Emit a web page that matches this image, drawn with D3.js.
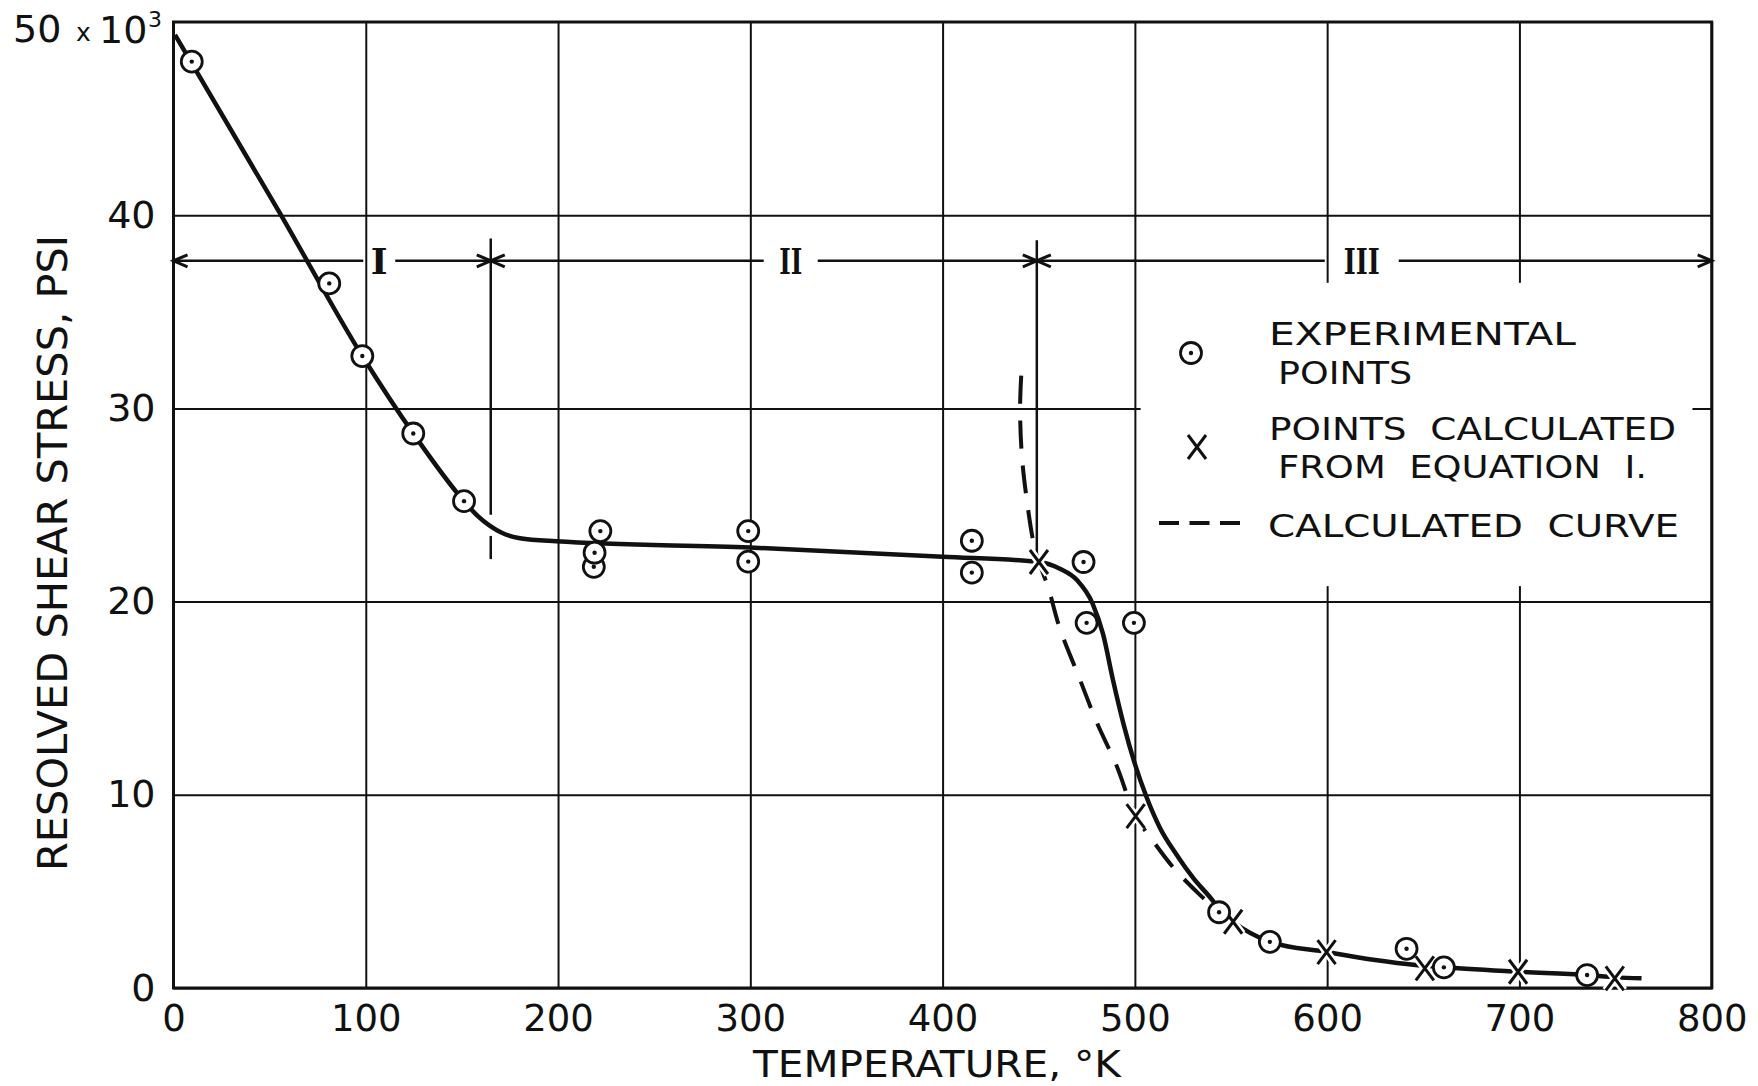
<!DOCTYPE html>
<html>
<head>
<meta charset="utf-8">
<script src="https://cdn.jsdelivr.net/npm/d3@7"></script>
<style>
  body { margin: 0; background: #fff; }
  svg text { fill: #111; }
</style>
</head>
<body>
<script>
var W = 1758, H = 1086;

// axis ticks
var xTicks = [0, 100, 200, 300, 400, 500, 600, 700, 800];
var yTicks = [0, 10, 20, 30, 40];

// experimental points (temperature K, stress in 1000 psi)
var expT = [9.5, 81, 98.2, 124.7, 151.1, 218.6, 219, 222, 298.9, 298.9, 415.2, 415.2,
            473.3, 474.9, 499.5, 543.8, 570.2, 641.3, 660.7, 735.2];
var expS = [47.95, 36.47, 32.71, 28.7, 25.2, 21.8, 22.53, 23.65, 23.65, 22.07, 23.15, 21.5,
            22.05, 18.9, 18.9, 3.92, 2.39, 2.03, 1.07, 0.67];

// points calculated from equation I
var calcT = [450.1, 500.4, 551.1, 599.7, 650.8, 699.3, 749.6];
var calcS = [22.05, 8.9, 3.43, 1.86, 1.02, 0.84, 0.5];

// solid (drawn) curve
var fitT = [0.8, 55.4, 98.2, 124.7, 151.1, 158, 164.6, 171, 180.2, 199, 300, 400, 450.1, 461, 470,
            478, 483.5, 488.7, 494, 500, 506, 513, 521.7, 530.3, 540.7, 545, 551, 570, 600,
            625, 646, 661, 699, 735, 750, 763.5];
var fitS = [49.33, 40.1, 32.71, 28.7, 25.2, 24.45, 23.92, 23.55, 23.28, 23.12, 22.8, 22.32, 22.05,
            21.7, 21.1, 19.9, 18.3, 15.9, 13.7, 11.6, 9.9, 8.3, 6.9, 5.7, 4.5, 3.92, 3.43, 2.4,
            1.86, 1.45, 1.19, 1.07, 0.84, 0.67, 0.55, 0.5];

// calculated (dashed) curve
var dashT = [440.9, 440.3, 441.2, 443.6, 447.4, 450.1, 455, 461, 470.5, 480.4, 490.5, 500.4,
             509.5, 520.3, 533, 543.8];
var dashS = [31.7, 30.0, 27.6, 25.4, 23.0, 22.05, 20.7, 18.6, 16.2, 13.7, 11.5, 8.9, 7.6,
             6.2, 4.9, 3.92];

// temperature regions
var regionNames = ["I", "II", "III"];
var regionBounds = [0, 165, 449, 800];
var regionLabelT = [107, 321, 618];
var regionArrowS = 37.64;

var legendLabels = [["EXPERIMENTAL", "POINTS"], ["POINTS  CALCULATED", "FROM  EQUATION  I."], ["CALCULATED  CURVE"]];

var ink = "#111";
var sans = "'DejaVu Sans', sans-serif";

var svg = d3.select("body").append("svg")
  .attr("width", W).attr("height", H);

var x = d3.scaleLinear().domain([0, 800]).range([173.5, 1711.7]);
var y = d3.scaleLinear().domain([0, 50]).range([988, 22]);

// grid via axes
var gx = svg.append("g")
  .attr("transform", "translate(0," + y(0) + ")")
  .call(d3.axisBottom(x).tickValues(xTicks).tickSize(-(y(0) - y(50))).tickPadding(17)
        .tickFormat(d3.format("d")));
gx.attr("font-family", sans).attr("font-size", 37).attr("color", ink);
gx.select(".domain").remove();
gx.selectAll(".tick line").attr("stroke-width", 2);

var gy = svg.append("g")
  .attr("transform", "translate(" + x(0) + ",0)")
  .call(d3.axisLeft(y).tickValues(yTicks).tickSize(-(x(800) - x(0))).tickPadding(18));
gy.attr("font-family", sans).attr("font-size", 38).attr("color", ink);
gy.select(".domain").remove();
gy.selectAll(".tick line").attr("stroke-width", 2);

// top label 50 x 10^3
svg.append("text").attr("x", 13).attr("y", 42).attr("font-family", sans).attr("font-size", 38).text("50");
svg.append("text").attr("x", 76).attr("y", 41).attr("font-family", sans).attr("font-size", 25).text("x");
svg.append("text").attr("x", 99).attr("y", 43).attr("font-family", sans).attr("font-size", 38).text("10");
svg.append("text").attr("x", 148).attr("y", 27).attr("font-family", sans).attr("font-size", 22).text("3");

// legend area clears the grid
svg.append("rect")
  .attr("x", x(503)).attr("y", y(36.5))
  .attr("width", x(790) - x(503)).attr("height", y(20.8) - y(36.5))
  .attr("fill", "#fff");

// frame
svg.append("rect")
  .attr("x", x(0)).attr("y", y(50))
  .attr("width", x(800) - x(0)).attr("height", y(0) - y(50))
  .attr("fill", "none").attr("stroke", ink).attr("stroke-width", 3);

// axis titles
svg.append("text")
  .attr("transform", "translate(53,553) rotate(-90)")
  .attr("text-anchor", "middle").attr("dominant-baseline", "central")
  .attr("font-family", sans).attr("font-size", 40)
  .attr("textLength", 636).attr("lengthAdjust", "spacingAndGlyphs")
  .text("RESOLVED  SHEAR  STRESS,  PSI");

svg.append("text")
  .attr("x", 753).attr("y", 1077)
  .attr("font-family", sans).attr("font-size", 37)
  .attr("textLength", 368).attr("lengthAdjust", "spacingAndGlyphs")
  .text("TEMPERATURE, °K");

// region arrows
var ay = y(regionArrowS);
var gapHalf = [16, 27, 37];
var regions = svg.append("g").attr("stroke", ink).attr("stroke-width", 2.5).attr("fill", "none");
regionNames.forEach(function(name, i) {
  var a = x(regionBounds[i]), b = x(regionBounds[i + 1]), c = x(regionLabelT[i]);
  regions.append("line").attr("x1", a).attr("x2", c - gapHalf[i]).attr("y1", ay).attr("y2", ay);
  regions.append("line").attr("x1", c + gapHalf[i]).attr("x2", b).attr("y1", ay).attr("y2", ay);
  regions.append("path").attr("stroke-width", 3)
    .attr("d", "M" + (a + 14) + "," + (ay - 6) + "L" + a + "," + ay + "L" + (a + 14) + "," + (ay + 6));
  regions.append("path").attr("stroke-width", 3)
    .attr("d", "M" + (b - 14) + "," + (ay - 6) + "L" + b + "," + ay + "L" + (b - 14) + "," + (ay + 6));
  var t = svg.append("text")
    .attr("x", c).attr("y", ay).attr("text-anchor", "middle").attr("dominant-baseline", "central")
    .attr("font-family", "'DejaVu Serif', serif").attr("font-weight", "bold").attr("font-size", 36)
    .text(name);
  if (i > 0) t.attr("textLength", i === 1 ? 23 : 36).attr("lengthAdjust", "spacingAndGlyphs");
});
// dividers
regions.append("line").attr("x1", x(165)).attr("x2", x(165)).attr("y1", y(38.8)).attr("y2", y(24.5));
regions.append("line").attr("x1", x(165)).attr("x2", x(165)).attr("y1", y(23.4)).attr("y2", y(22.2));
regions.append("line").attr("x1", x(449)).attr("x2", x(449)).attr("y1", y(38.7)).attr("y2", y(22.4));

// curves
var fit = fitT.map(function(t, i) { return [t, fitS[i]]; });
var dash = dashT.map(function(t, i) { return [t, dashS[i]]; });

svg.append("path").datum(dash)
  .attr("d", d3.line().x(function(d) { return x(d[0]); }).y(function(d) { return y(d[1]); })
    .curve(d3.curveCatmullRom))
  .attr("fill", "none").attr("stroke", ink).attr("stroke-width", 4)
  .attr("stroke-dasharray", "28,17");

svg.append("path").datum(fit)
  .attr("d", d3.line().x(function(d) { return x(d[0]); }).y(function(d) { return y(d[1]); })
    .curve(d3.curveMonotoneX))
  .attr("fill", "none").attr("stroke", ink).attr("stroke-width", 4.5);

// markers
function drawCircle(g, cx, cy) {
  g.append("circle").attr("cx", cx).attr("cy", cy).attr("r", 10.5)
    .attr("fill", "#fff").attr("stroke", ink).attr("stroke-width", 2.8);
  g.append("circle").attr("cx", cx).attr("cy", cy).attr("r", 2.2).attr("fill", ink);
}
function drawX(g, cx, cy) {
  var p = "M" + (cx - 9) + "," + (cy - 12) + "L" + (cx + 9) + "," + (cy + 12) +
          "M" + (cx - 9) + "," + (cy + 12) + "L" + (cx + 9) + "," + (cy - 12);
  g.append("path").attr("d", p).attr("stroke", "#fff").attr("stroke-width", 8).attr("fill", "none");
  g.append("path").attr("d", p).attr("stroke", ink).attr("stroke-width", 3).attr("fill", "none");
}

var gm = svg.append("g");
calcT.forEach(function(t, i) { drawX(gm, x(t), y(calcS[i])); });
expT.forEach(function(t, i) { drawCircle(gm, x(t), y(expS[i])); });

// legend
var lg = svg.append("g").attr("font-family", sans).attr("font-size", 32);
drawCircle(lg, 1191, 353);
drawX(lg, 1197, 447);
lg.append("line").attr("x1", 1159).attr("x2", 1241).attr("y1", 523).attr("y2", 523)
  .attr("stroke", ink).attr("stroke-width", 4).attr("stroke-dasharray", "20,10.5");

var legendText = [
  [legendLabels[0][0], 1269, 345, 307], [legendLabels[0][1], 1278, 384, 134],
  [legendLabels[1][0], 1269, 440, 407], [legendLabels[1][1], 1278, 478, 369],
  [legendLabels[2][0], 1268, 537, 411]
];
legendText.forEach(function(d) {
  lg.append("text").attr("x", d[1]).attr("y", d[2])
    .attr("textLength", d[3]).attr("lengthAdjust", "spacingAndGlyphs")
    .attr("xml:space", "preserve")
    .text(d[0]);
});
</script>
</body>
</html>
